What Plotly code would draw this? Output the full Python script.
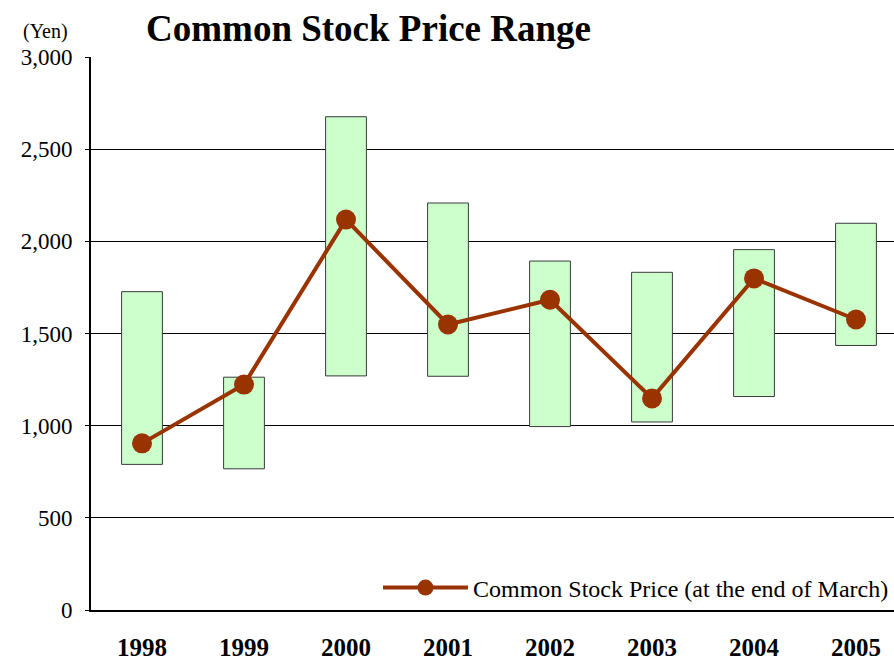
import plotly.graph_objects as go

years = ["1998", "1999", "2000", "2001", "2002", "2003", "2004", "2005"]
high = [1727, 1263, 2676, 2208, 1893, 1832, 1955, 2098]
low = [790, 766, 1270, 1268, 995, 1020, 1158, 1435]
close = [904, 1223, 2118, 1549, 1683, 1148, 1799, 1576]

y_ticks = [0, 500, 1000, 1500, 2000, 2500, 3000]

FONT = "Liberation Serif, Times New Roman, serif"

fig = go.Figure()
fig.add_trace(go.Bar(
    x=years,
    y=[h - l for h, l in zip(high, low)],
    base=low,
    width=0.4,
    marker=dict(color="#CCFFCC", line=dict(color="#3a3a3a", width=1)),
    showlegend=False,
    hoverinfo="skip",
))
fig.add_trace(go.Scatter(
    x=years,
    y=close,
    mode="lines+markers",
    name="Common Stock Price (at the end of March)",
    line=dict(color="#993300", width=4),
    marker=dict(color="#993300", size=20),
))

fig.update_layout(
    width=894,
    height=661,
    margin=dict(l=91, r=0, t=57, b=51, autoexpand=False),
    paper_bgcolor="white",
    plot_bgcolor="white",
    font=dict(family=FONT, color="black"),
    title=dict(
        text="<b>Common Stock Price Range</b>",
        font=dict(family=FONT, size=37, color="black"),
        x=368.5 / 894, xanchor="center",
        y=1 - 28 / 661, yanchor="middle",
    ),
    showlegend=True,
    legend=dict(
        x=1, xanchor="right",
        y=(610 - 588) / 553, yanchor="middle",
        bgcolor="rgba(0,0,0,0)",
        font=dict(family=FONT, size=24, color="black"),
        itemwidth=85,
    ),
    annotations=[dict(
        text="(Yen)", xref="paper", yref="paper",
        x=(45 - 91) / 803, xanchor="center",
        y=(610 - 31) / 553, yanchor="middle",
        showarrow=False, font=dict(family=FONT, size=20, color="black"),
    )],
)

fig.update_xaxes(
    type="category",
    range=[-0.5, -0.5 + (894 - 91) / 102],
    showline=True, linecolor="black", linewidth=2,
    ticks="", showgrid=False,
    tickfont=dict(family=FONT, size=25, color="black", weight="bold"),
    ticklabelstandoff=14,
    automargin=False,
)
fig.update_yaxes(
    range=[0, 3000],
    tickvals=y_ticks,
    tickformat=",",
    showline=True, linecolor="black", linewidth=2,
    showgrid=True, gridcolor="black", gridwidth=1,
    ticks="outside", ticklen=4, tickcolor="black",
    tickfont=dict(family=FONT, size=23, color="black"),
    ticklabelstandoff=8,
    zeroline=False,
    automargin=False,
)

fig.write_html(
    "out.html",
    config={"displayModeBar": False},
    post_script="document.body.style.margin='0';document.body.style.overflow='hidden';",
)
